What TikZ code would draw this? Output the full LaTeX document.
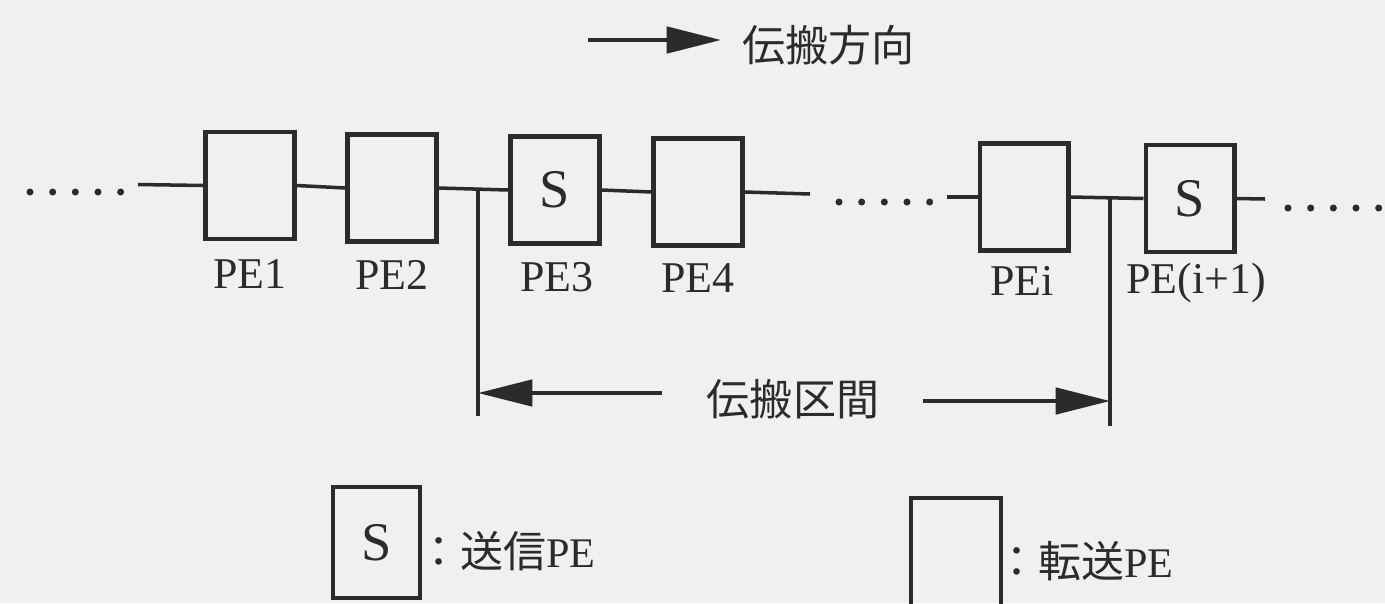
\documentclass[tikz,border=0pt]{standalone}
\usepackage{fontspec}
\setmainfont{Liberation Serif}
\newfontfamily\cjk{Noto Sans CJK JP}
\usetikzlibrary{arrows.meta}
\definecolor{bg}{RGB}{241,239,242}
\definecolor{ink}{RGB}{45,42,45}
\begin{document}
\begin{tikzpicture}[x=0.02cm,y=-0.02cm,
  pebox/.style={draw=ink, line width=2.3pt, minimum width=1.78cm, minimum height=2.14cm,
                inner sep=0pt, font=\fontsize{31}{31}\selectfont, text=ink},
  lbl/.style={inner sep=0pt, font=\fontsize{25}{25}\selectfont, text=ink},
  jp/.style={inner sep=0pt, font=\cjk\fontsize{24.5}{24.5}\selectfont, text=ink},
  wire/.style={draw=ink, line width=2pt},
  dotrow/.style={draw=ink, line width=4pt, line cap=round, dash pattern=on 0pt off 12.9pt},
  arr/.style={draw=ink, line width=2.2pt, -{Triangle[length=31pt,width=15pt]}}]
\clip (0,0) rectangle (1385,603);
\fill[bg] (0,0) rectangle (1385,603);

% top direction arrow
\coordinate (d0) at (588,40);
\coordinate (d1) at (721,40);
\draw[arr] (d0) -- (d1);
\node[jp, anchor=west] (dir) at (742,45) {伝搬方向};

% PE boxes
\node[pebox] (pe1) at (250,185.5) {};
\node[pebox] (pe2) at (392,188) {};
\node[pebox] (pe3) at (555,190) {S};
\node[pebox] (pe4) at (698,192) {};
\node[pebox] (pei) at (1024,197) {};
\node[pebox] (pei1) at (1190,198.5) {S};

% labels
\node[lbl] (l1) at (250,274) {PE1};
\node[lbl] (l2) at (392,275) {PE2};
\node[lbl] (l3) at (557,277) {PE3};
\node[lbl] (l4) at (698,278) {PE4};
\node[lbl] (li) at (1022,281) {PEi};
\node[lbl] (li1) at (1196,283) {PE(i+1)};

% wires
\coordinate (w0) at (138,184.5);
\coordinate (w1) at (810,194);
\coordinate (w2) at (947,197);
\coordinate (w3) at (1265,199);
\coordinate (t1) at (478,189.5);
\coordinate (t2) at (1110,198);
\draw[wire] (w0) -- (pe1.west);
\draw[wire] (pe1.east) -- (pe2.west);
\draw[wire] (pe2.east) -- (pe3.west);
\draw[wire] (pe3.east) -- (pe4.west);
\draw[wire] (pe4.east) -- (w1);
\draw[wire] (w2) -- (pei.west);
\draw[wire] (pei.east) -- (pei1.west);
\draw[wire] (pei1.east) -- (w3);

% dotted continuations
\draw[dotrow] (30,192) -- (122,192);
\draw[dotrow] (839,202) -- (931,202);
\draw[dotrow] (1288,208) -- (1380,208);

% propagation interval
\coordinate (b1) at (478,416);
\coordinate (b2) at (1110,426);
\draw[wire, line width=1.8pt] (t1) -- (b1);
\draw[wire, line width=1.8pt] (t2) -- (b2);
\coordinate (s1) at (662,393);
\coordinate (s2) at (923,401);
\draw[arr] (s1) -- (s1 -| t1);
\draw[arr] (s2) -- (s2 -| t2);
\node[jp] (sec) at (793,399) {伝搬区間};

% legend
\node[pebox, minimum width=1.74cm, minimum height=2.22cm] (lgs) at (376.5,542.5) {S};
\node[inner sep=0pt, anchor=west, text=ink] (lgst) at (417,551)
  {{\cjk\fontsize{24.5}{24.5}\selectfont ：送信}{\fontsize{24}{24}\selectfont PE}};
\node[pebox, minimum width=1.8cm, minimum height=2.2cm] (lgf) at (956,553) {};
\node[inner sep=0pt, anchor=west, text=ink] (lgft) at (995,561)
  {{\cjk\fontsize{24.5}{24.5}\selectfont ：転送}{\fontsize{24}{24}\selectfont PE}};
\end{tikzpicture}
\end{document}
